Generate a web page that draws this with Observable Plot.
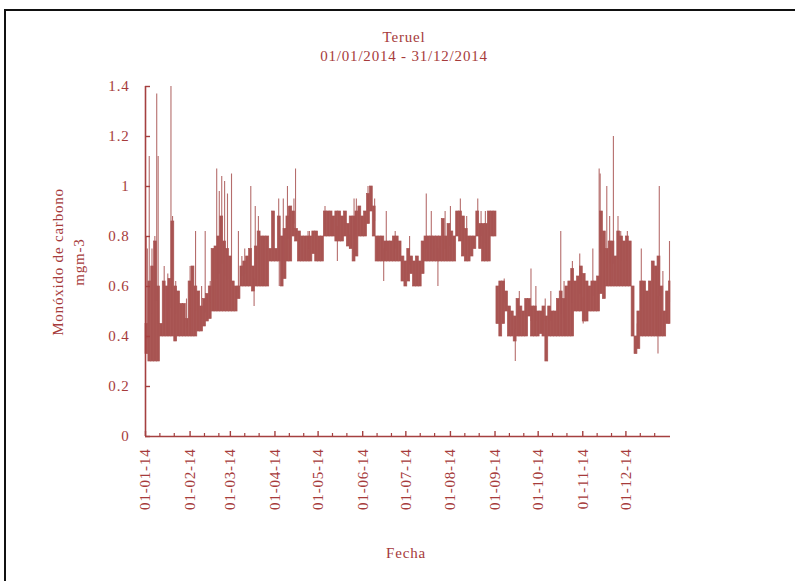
<!DOCTYPE html>
<html><head><meta charset="utf-8">
<script src="https://cdn.jsdelivr.net/npm/d3@7"></script>
<script src="https://cdn.jsdelivr.net/npm/@observablehq/plot@0.6"></script>
<style>
html,body{margin:0;padding:0;background:#fff;width:795px;height:581px;overflow:hidden;position:relative;}
#frame{position:absolute;left:4px;top:9px;width:900px;height:700px;border-top:2px solid #111;border-left:2px solid #111;}
.t{position:absolute;font-family:"Liberation Serif",serif;font-size:15px;letter-spacing:0.8px;color:#a63b3b;white-space:nowrap;transform:translate(-50%,-50%);}
#ylab{position:absolute;left:69px;top:262px;transform:translate(-50%,-50%) rotate(-90deg);text-align:center;line-height:21px;font-family:"Liberation Serif",serif;font-size:15px;letter-spacing:0.8px;color:#a63b3b;white-space:nowrap;}
#chart{position:absolute;left:0;top:0;}
</style></head><body>
<div id="frame"></div>
<div id="chart"></div>
<div class="t" style="left:404px;top:37px">Teruel</div>
<div class="t" style="left:404px;top:56px">01/01/2014 - 31/12/2014</div>
<div id="ylab">Monóxido de carbono<br>mgm-3</div>
<div class="t" style="left:406px;top:553px">Fecha</div>
<script>
// CO (mg/m3), Teruel 2014 — two-day bins starting 1 Jan: low / high of the hourly values
const binLo = [
.33,.30,.30,.30,.30,.40,.40,.40,.40,.40,.38,.40,.40,.40,.40,.40,.40,.40,.42,.42,
.44,.46,.47,.50,.50,.50,.50,.50,.50,.50,.50,.50,.55,.60,.60,.60,.60,.58,.60,.60,
.60,.60,.60,.70,.70,.70,.70,.60,.63,.70,.70,.80,.78,.70,.70,.70,.70,.70,.73,.70,
.70,.70,.80,.80,.80,.80,.78,.78,.78,.80,.76,.75,.70,.72,.80,.80,.80,.85,.90,.80,
.70,.70,.70,.70,.70,.70,.70,.70,.70,.62,.60,.62,.65,.60,.60,.60,.65,.70,.70,.70,
.70,.70,.70,.70,.70,.70,.70,.70,.80,.78,.72,.70,.70,.72,.75,.80,.75,.70,.70,.70,
.80,.80,.45,.40,.45,.50,.40,.40,.38,.40,.40,.40,.40,.48,.40,.40,.40,.41,.40,.30,
.40,.40,.40,.40,.40,.40,.40,.40,.40,.50,.50,.50,.46,.46,.50,.50,.50,.50,.57,.55,
.60,.60,.60,.60,.60,.60,.60,.60,.60,.40,.33,.35,.40,.40,.40,.40,.40,.40,.40,.40,
.40,.45,.45];
const binHi = [
.45,.62,.68,.78,.60,.45,.62,.60,.63,.86,.60,.58,.53,.53,.47,.62,.68,.60,.58,.52,
.55,.57,.60,.75,.76,.80,.88,.78,.75,.72,.62,.60,.60,.68,.70,.72,.75,.68,.76,.82,
.80,.80,.80,.75,.90,.75,.88,.80,.83,.88,.92,.90,.83,.82,.80,.80,.80,.80,.82,.82,
.80,.80,.90,.90,.90,.88,.90,.90,.88,.90,.85,.88,.88,.90,.92,.88,.90,.97,1.0,.92,
.80,.80,.80,.78,.78,.78,.80,.80,.78,.72,.70,.75,.72,.70,.72,.70,.78,.80,.80,.80,
.80,.80,.80,.87,.80,.85,.82,.80,.90,.90,.88,.83,.80,.80,.80,.90,.85,.85,.85,.90,
.90,.90,.60,.62,.62,.58,.52,.50,.48,.55,.52,.50,.55,.55,.52,.52,.50,.50,.52,.48,
.52,.50,.50,.55,.58,.55,.60,.62,.67,.62,.64,.68,.65,.62,.60,.62,.62,.64,.90,.82,
.75,.78,.78,.72,.82,.80,.78,.80,.78,.60,.40,.50,.62,.62,.58,.62,.70,.68,.72,.60,
.50,.58,.62];
// isolated hourly peaks / dips: day of year (0 = 1 Jan) and value
const spikeDay = [0.5,1.3,2.6,4.5,6.5,7.8,8.8,13,15.5,17.7,18.8,21,28.5,31,34.8,39,41.5,45,49.5,51.3,
53,55,57,59.8,64.6,67,69,73.2,75.5,76.3,78.5,88.5,92.6,93,95.8,98.7,99.3,103.2,104.3,113,
114,124.8,133.4,141.9,145,146.6,154.7,159.3,165.6,167.4,173.6,183.6,195.2,198.7,203.3,208.3,212,218.9,223.3,231,
233.3,236.3,249.4,257.1,259.9,268,271.4,277.9,281.8,288.7,291,296.8,301.9,304.3,311,315.4,316.1,320.7,322.7,325.3,
328.5,330.4,335,341.9,344.7,356.3,357.2,359.7,364.3];
const spikeVal = [.80,.75,1.12,.75,.80,1.37,1.12,.68,.65,1.40,.88,.62,.55,.68,.82,.60,.82,.62,1.07,.98,
1.04,1.02,.97,1.05,.82,.72,.75,1.0,.52,.92,.88,.85,.95,.60,.95,1.0,.92,.95,1.07,.82,
.82,.92,.70,.75,.95,.95,1.0,.95,.62,.90,.82,.80,.97,.90,.60,.90,.92,.95,.88,.95,
.90,.90,.63,.30,.58,.67,.60,.55,.58,.82,.62,.70,.73,.45,.75,1.07,1.05,1.0,.88,1.2,
.88,.82,.82,.45,.75,.33,1.0,.66,.78];
const monthTicks = ["2014-01-01","2014-02-01","2014-03-01","2014-04-01","2014-05-01","2014-06-01",
"2014-07-01","2014-08-01","2014-09-01","2014-10-01","2014-11-01","2014-12-01"];
const yTicks = [0,0.2,0.4,0.6,0.8,1,1.2,1.4];

const TEXT = "#a63b3b", BAND = "#a85452", AXIS = "#a54040";
const DAY = 864e5;
const t0 = Date.UTC(2014,0,1), t1 = Date.UTC(2015,0,1);
const bins = binLo.map((lo,i) => ({
  x1: new Date(t0 + 2*i*DAY),
  x2: new Date(Math.min(t0 + 2*(i+1)*DAY, t1)),
  lo, hi: binHi[i]
}));
const spikes = spikeDay.map((d,i) => {
  const b = bins[Math.min(Math.floor(d/2), bins.length-1)];
  return {x: new Date(t0 + d*DAY), base: (b.lo + b.hi)/2, v: spikeVal[i]};
});
const majors = monthTicks.map(s => new Date(s + "T00:00:00Z"));
const minors = [];
majors.forEach(m => { minors.push(d3.utcDay.offset(m,10), d3.utcDay.offset(m,20)); });
const fmt = d3.utcFormat("%d-%m-%y");

const chart = Plot.plot({
  width: 795, height: 581,
  marginLeft: 145, marginRight: 125, marginTop: 86, marginBottom: 145,
  style: {fontFamily: "'Liberation Serif', serif", fontSize: "15px", color: TEXT, background: "transparent", letterSpacing: "0.8px", overflow: "visible"},
  x: {type: "utc", domain: [new Date(t0), new Date(t1)]},
  y: {domain: [0, 1.4]},
  marks: [
    Plot.rect(bins, {x1: "x1", x2: "x2", y1: "lo", y2: "hi", fill: BAND, stroke: BAND, strokeWidth: 0.7}),
    Plot.ruleX(spikes, {x: "x", y1: "base", y2: "v", stroke: BAND, strokeWidth: 1.1, strokeOpacity: 0.85}),
    Plot.ruleY([0], {stroke: AXIS, strokeWidth: 1.6}),
    Plot.ruleX([new Date(t0)], {stroke: AXIS, strokeWidth: 1.6}),
    Plot.axisY(yTicks, {tickSize: -5, tickPadding: 21, tickFormat: d => String(d), stroke: AXIS, fill: TEXT, strokeWidth: 1.4, label: null}),
    Plot.axisX(majors, {tickSize: -5, tickPadding: 17, tickRotate: -90, tickFormat: fmt, stroke: AXIS, fill: TEXT, strokeWidth: 1.4, label: null}),
    Plot.axisX(minors, {tickSize: -3, tickPadding: 0, tickFormat: () => "", stroke: AXIS, strokeWidth: 1.2, label: null})
  ]
});
document.getElementById("chart").appendChild(chart);
</script>
</body></html>
